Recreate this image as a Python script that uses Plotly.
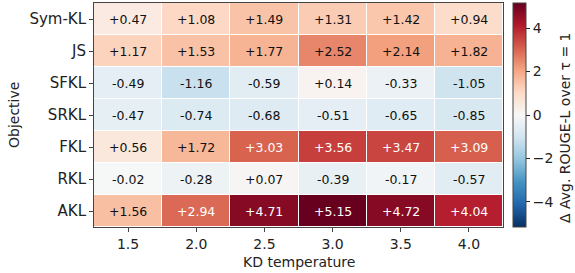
import plotly.graph_objects as go

objectives = ["Sym-KL", "JS", "SFKL", "SRKL", "FKL", "RKL", "AKL"]
temperatures = ["1.5", "2.0", "2.5", "3.0", "3.5", "4.0"]
values = [
    [0.47, 1.08, 1.49, 1.31, 1.42, 0.94],
    [1.17, 1.53, 1.77, 2.52, 2.14, 1.82],
    [-0.49, -1.16, -0.59, 0.14, -0.33, -1.05],
    [-0.47, -0.74, -0.68, -0.51, -0.65, -0.85],
    [0.56, 1.72, 3.03, 3.56, 3.47, 3.09],
    [-0.02, -0.28, 0.07, -0.39, -0.17, -0.57],
    [1.56, 2.94, 4.71, 5.15, 4.72, 4.04],
]
colorbar_ticks = [-4, -2, 0, 2, 4]

rdbu_r = ["#053061", "#2166ac", "#4393c3", "#92c5de", "#d1e5f0", "#f7f7f7",
          "#fddbc7", "#f4a582", "#d6604d", "#b2182b", "#67001f"]
colorscale = [[i / (len(rdbu_r) - 1), c] for i, c in enumerate(rdbu_r)]
vmax = max(abs(v) for row in values for v in row)

W, H = 575, 273
L, R, T, B = 94, 72, 3, 46
pw, ph = W - L - R, H - T - B

fig = go.Figure(go.Heatmap(
    z=values, x=temperatures, y=objectives,
    colorscale=colorscale, zmin=-vmax, zmax=vmax,
    xgap=1, ygap=1,
    colorbar=dict(
        thickness=13, thicknessmode="pixels", len=1, lenmode="fraction",
        y=0.5, yanchor="middle", x=1 + 10 / pw, xanchor="left", xpad=0, ypad=0,
        outlinewidth=1, outlinecolor="#444",
        tickvals=colorbar_ticks,
        ticktext=[("\u2212" + str(-t)) if t < 0 else str(t) for t in colorbar_ticks],
        ticks="outside", ticklen=4, tickcolor="#222",
        tickfont=dict(size=14, color="#222"),
    ),
    hoverinfo="skip",
))

annotations = []
for i, obj in enumerate(objectives):
    for j, t in enumerate(temperatures):
        v = values[i][j]
        annotations.append(dict(
            x=j, y=i, xref="x", yref="y", text=f"{v:+.2f}", showarrow=False,
            font=dict(size=12.5, color="white" if abs(v) > vmax / 2 else "#111"),
        ))
# colorbar title
annotations.append(dict(
    x=(565 - L) / pw, y=(H - B - 128) / ph, xref="paper", yref="paper",
    xanchor="center", yanchor="middle",
    text="\u0394 Avg. ROUGE-L over \u03c4 = 1", textangle=-90, showarrow=False,
    font=dict(size=14, color="#222"),
))
# y axis title
annotations.append(dict(
    x=(14 - L) / pw, y=0.5, xref="paper", yref="paper",
    xanchor="center", yanchor="middle",
    text="Objective", textangle=-90, showarrow=False,
    font=dict(size=14, color="#222"),
))
# x axis title
annotations.append(dict(
    x=0.5, y=-(262 - (H - B)) / ph, xref="paper", yref="paper",
    xanchor="center", yanchor="middle",
    text="KD temperature", showarrow=False,
    font=dict(size=14, color="#222"),
))

fig.update_layout(
    width=W, height=H,
    margin=dict(l=L, r=R, t=T, b=B),
    paper_bgcolor="white", plot_bgcolor="white",
    font=dict(family="DejaVu Sans", color="#222"),
    annotations=annotations,
    xaxis=dict(type="category", automargin=False,
               ticks="outside", ticklen=4, tickfont=dict(size=14),
               showline=True, linecolor="#444", mirror=True, linewidth=1,
               showgrid=False, zeroline=False),
    yaxis=dict(type="category", automargin=False,
               ticks="outside", ticklen=4, tickfont=dict(size=15),
               autorange="reversed",
               showline=True, linecolor="#444", mirror=True, linewidth=1,
               showgrid=False, zeroline=False),
)

fig.write_html("out.html", config={"displayModeBar": False},
               post_script="document.body.style.margin='0';")
